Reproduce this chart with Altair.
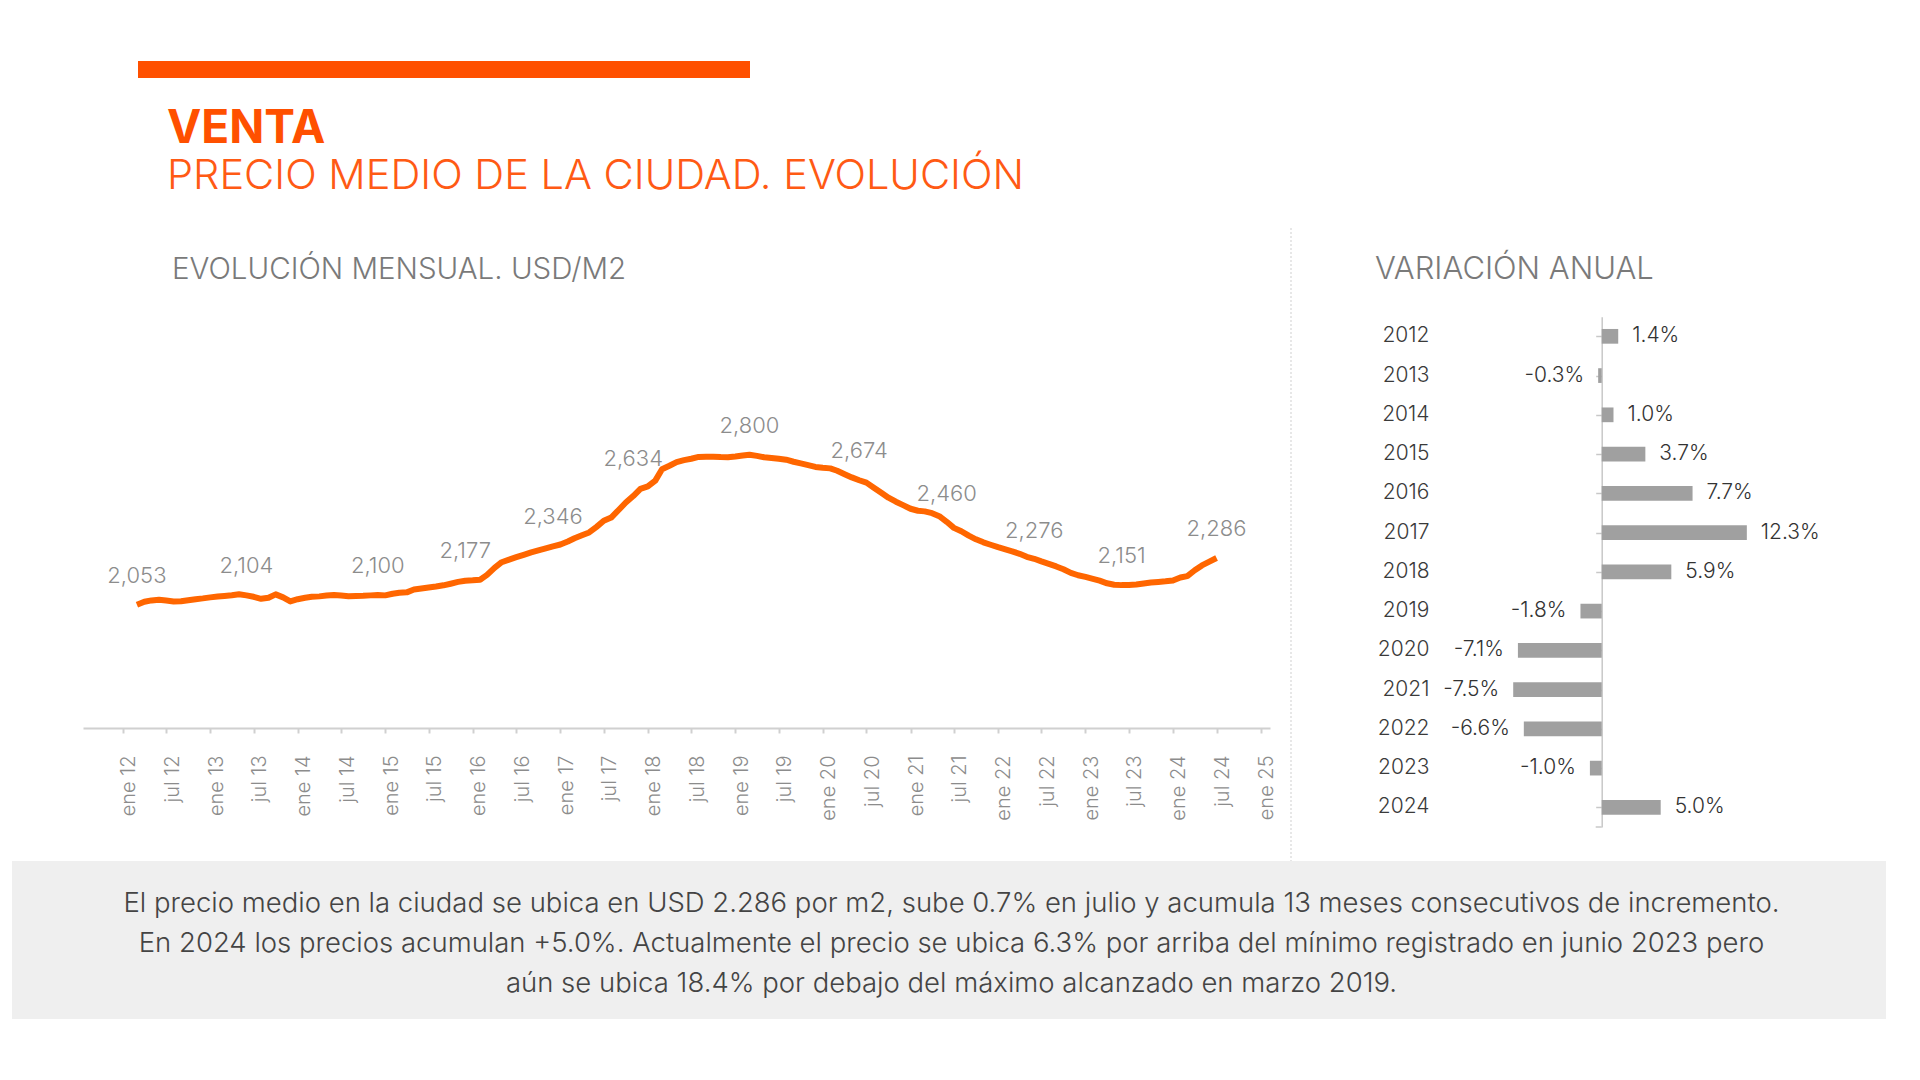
import json
import altair as alt
import pandas as pd

FONT = "Inter"

# ---------------- data ----------------
# monthly average price USD/m2, Mar 2012 .. Jul 2024
price = [
    2053, 2068, 2075, 2078, 2074, 2070, 2071, 2076, 2081, 2085,
    2090, 2094, 2097, 2101, 2106, 2100, 2093, 2083, 2088, 2105,
    2090, 2070, 2081, 2088, 2093, 2095, 2099, 2102, 2099, 2096,
    2097, 2098, 2100, 2102, 2100, 2108, 2113, 2115, 2129, 2134,
    2139, 2144, 2150, 2158, 2167, 2173, 2175, 2178, 2202, 2237,
    2265, 2278, 2290, 2302, 2314, 2324, 2334, 2344, 2353, 2368,
    2384, 2399, 2413, 2441, 2471, 2487, 2525, 2562, 2594, 2630,
    2642, 2671, 2728, 2745, 2763, 2773, 2780, 2789, 2790, 2790,
    2788, 2787, 2791, 2796, 2800, 2794, 2787, 2784, 2780, 2775,
    2765, 2757, 2748, 2739, 2735, 2732, 2720, 2703, 2687, 2673,
    2661, 2636, 2611, 2586, 2566, 2549, 2531, 2521, 2518, 2509,
    2494, 2466, 2436, 2419, 2397, 2379, 2364, 2352, 2340, 2329,
    2319, 2307, 2292, 2282, 2269, 2257, 2244, 2230, 2212, 2200,
    2192, 2182, 2173, 2160, 2153, 2151, 2152, 2154, 2159, 2164,
    2167, 2170, 2174, 2189, 2196, 2225, 2249, 2268, 2286,
]
first_month = "2012-03-01"

label_months = ["2012-03-01", "2013-06-01", "2014-12-01", "2015-12-01",
                "2016-12-01", "2017-11-01", "2019-03-01", "2020-06-01",
                "2021-06-01", "2022-06-01", "2023-06-01", "2024-07-01"]
label_values = [2053, 2104, 2100, 2177, 2346, 2634,
                2800, 2674, 2460, 2276, 2151, 2286]

tick_labels = []
for yy in range(12, 26):
    tick_labels.append(f"ene {yy}")
    if yy < 25:
        tick_labels.append(f"jul {yy}")

years = [str(y) for y in range(2012, 2025)]
variation = [1.4, -0.3, 1.0, 3.7, 7.7, 12.3, 5.9, -1.8, -7.1, -7.5, -6.6, -1.0, 5.0]

title_main = "VENTA"
title_sub = "PRECIO MEDIO DE LA CIUDAD. EVOLUCIÓN"
panel_left_title = "EVOLUCIÓN MENSUAL. USD/M2"
panel_right_title = "VARIACIÓN ANUAL"
footer_lines = [
    "El precio medio en la ciudad se ubica en USD 2.286 por m2, sube 0.7% en julio y acumula 13 meses consecutivos de incremento.",
    "En 2024 los precios acumulan +5.0%. Actualmente el precio se ubica 6.3% por arriba del mínimo registrado en junio 2023 pero",
    "aún se ubica 18.4% por debajo del máximo alcanzado en marzo 2019.",
]

# ---------------- tables ----------------
months = pd.date_range(first_month, periods=len(price), freq="MS")
line_df = pd.DataFrame({"fecha": months, "precio": price})
lab_df = pd.DataFrame({
    "fecha": pd.to_datetime(label_months),
    "valor": label_values,
})
bar_df = pd.DataFrame({"anio": years, "var": variation})
bar_df["texto"] = [f"{v:.1f}%" for v in variation]
pos_df = bar_df[bar_df["var"] >= 0]
neg_df = bar_df[bar_df["var"] < 0]
one = pd.DataFrame({"k": [0]})

# ---------------- scales ----------------
xs_line = alt.Scale(domain=[alt.DateTime(year=2011, month=7, date=20),
                            alt.DateTime(year=2025, month=2, date=9)],
                    range=[75, 1262], nice=False)
ys_line = alt.Scale(domain=[1440, 3540], range=[720, 298], nice=False, zero=False)
xs_bar = alt.Scale(domain=[-10, 15], range=[1475.7, 1770.7], nice=False)
ys_bar = alt.Scale(domain=years, range=[308.7, 819], paddingInner=0.625, paddingOuter=0.3125)

tick_values = [alt.DateTime(year=2012 + i // 2, month=1 + 6 * (i % 2), date=1)
               for i in range(len(tick_labels))]
label_expr = (json.dumps(tick_labels, ensure_ascii=False)
              + "[round((year(datum.value)-2012)*2 + month(datum.value)/6)]")

x_axis = alt.Axis(values=tick_values, labelExpr=label_expr, orient="bottom",
                  offset=-344, domainColor="#d0d0d0", domainWidth=2,
                  tickColor="#d0d0d0", tickWidth=2, tickSize=5,
                  labelAngle=270, labelPadding=22, labelFontSize=20,
                  labelColor="#8c8c8c", labelFont=FONT, labelFontWeight=300,
                  labelOffset=6, labelOverlap=False, labelFlush=False,
                  labelBound=False, grid=False, title=None)

# ---------------- layers ----------------
line = alt.Chart(line_df).mark_line(
    color="#FF6600", strokeWidth=6, strokeJoin="round", strokeCap="butt"
).encode(
    x=alt.X("fecha:T", scale=xs_line, axis=x_axis),
    y=alt.Y("precio:Q", scale=ys_line, axis=None),
)

line_labels = alt.Chart(lab_df).mark_text(
    dy=-29, fontSize=22, color="#8c8c8c", font=FONT, fontWeight=300,
    align="center", baseline="middle"
).encode(
    x=alt.X("fecha:T", scale=xs_line, axis=None),
    y=alt.Y("valor:Q", scale=ys_line, axis=None),
    text=alt.Text("valor:Q", format=",d"),
)

bars = alt.Chart(bar_df).mark_bar(color="#A0A0A0").encode(
    x=alt.X("var:Q", scale=xs_bar, axis=None),
    x2=alt.datum(0),
    y=alt.Y("anio:N", scale=ys_bar, sort=None,
            axis=alt.Axis(orient="left", offset=-1421, domain=False, ticks=False,
                          tickSize=0, labelPadding=0, labelFontSize=21,
                          labelColor="#3a3a3a", labelFont=FONT, labelFontWeight=300,
                          labelAlign="right", labelBaseline="middle", title=None,
                          grid=False)),
)

pos_text = alt.Chart(pos_df).mark_text(
    align="left", dx=14, baseline="middle", fontSize=21, color="#333333",
    font=FONT, fontWeight=300
).encode(
    x=alt.X("var:Q", scale=xs_bar, axis=None),
    y=alt.Y("anio:N", scale=ys_bar, sort=None,
            axis=alt.Axis(orient="left", offset=-1593.7, labels=False, ticks=True,
                          tickSize=6, tickColor="#c8c8c8", tickWidth=1.5,
                          domainColor="#c8c8c8", domainWidth=1.5, bandPosition=0,
                          title=None, grid=False)),
    text="texto:N",
)

neg_text = alt.Chart(neg_df).mark_text(
    align="right", dx=-14, baseline="middle", fontSize=21, color="#333333",
    font=FONT, fontWeight=300
).encode(
    x=alt.X("var:Q", scale=xs_bar, axis=None),
    y=alt.Y("anio:N", scale=ys_bar, sort=None, axis=None),
    text="texto:N",
)

bottom_tick = alt.Chart(one).mark_rule(color="#c8c8c8", strokeWidth=1.5).encode(
    x=alt.value(1587.7), x2=alt.value(1593.7), y=alt.value(819)
)

header_bar = alt.Chart(one).mark_rect(color="#FF5000").encode(
    x=alt.value(130), x2=alt.value(742), y=alt.value(53), y2=alt.value(70)
)
venta = alt.Chart(one).mark_text(
    text=title_main, align="left", baseline="alphabetic", fontSize=46,
    fontWeight="bold", color="#FF5000", font=FONT
).encode(x=alt.value(159), y=alt.value(135))
subt = alt.Chart(one).mark_text(
    text=title_sub, align="left", baseline="alphabetic", fontSize=41.5,
    fontWeight=300, color="#FF5A14", font=FONT
).encode(x=alt.value(159), y=alt.value(181))
left_title = alt.Chart(one).mark_text(
    text=panel_left_title, align="left", baseline="alphabetic", fontSize=29.5,
    fontWeight=300, color="#7a7a7a", font=FONT
).encode(x=alt.value(164), y=alt.value(271))
right_title = alt.Chart(one).mark_text(
    text=panel_right_title, align="left", baseline="alphabetic", fontSize=31,
    fontWeight=300, color="#7a7a7a", font=FONT
).encode(x=alt.value(1367), y=alt.value(271))
divider = alt.Chart(one).mark_rule(color="#cfcfcf", strokeWidth=1, strokeDash=[2, 2]).encode(
    x=alt.value(1283), y=alt.value(220), y2=alt.value(853)
)
footer_box = alt.Chart(one).mark_rect(color="#efefef").encode(
    x=alt.value(4), x2=alt.value(1878), y=alt.value(853), y2=alt.value(1011)
)
footer_layers = [
    alt.Chart(one).mark_text(
        text=t, align="center", baseline="middle", fontSize=27.5, fontWeight=300,
        color="#444444", font=FONT
    ).encode(x=alt.value(943.5), y=alt.value(896 + 40 * i))
    for i, t in enumerate(footer_lines)
]

chart = alt.layer(
    header_bar, venta, subt, left_title, right_title, divider, footer_box,
    *footer_layers,
    line, line_labels, bars, pos_text, neg_text, bottom_tick,
).resolve_scale(
    x="independent", y="independent"
).resolve_axis(
    x="independent", y="independent"
).properties(
    width=1904, height=1064, padding=0,
    autosize=alt.AutoSizeParams(type="none"), background="white",
).configure_view(strokeWidth=0)

chart.save("out.html", embed_options={"renderer": "svg", "actions": False})
